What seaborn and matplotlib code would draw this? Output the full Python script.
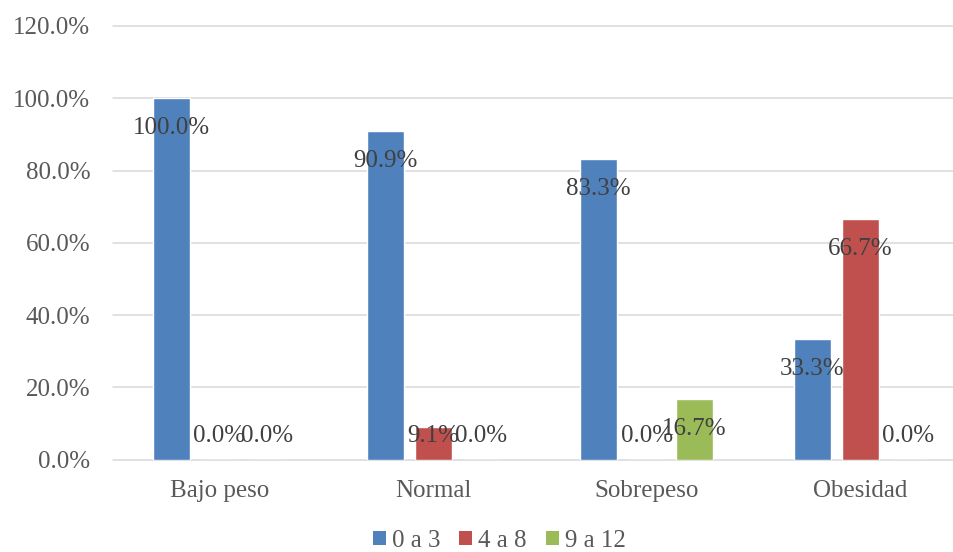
import matplotlib
matplotlib.use("Agg")
import matplotlib.pyplot as plt
from matplotlib.patches import Patch
from matplotlib.ticker import PercentFormatter
import seaborn as sns
import pandas as pd

# Proporciones por categoría de IMC y grupo
categorias = ["Bajo peso", "Normal", "Sobrepeso", "Obesidad"]
grupos = ["0 a 3", "4 a 8", "9 a 12"]
grupo_0a3 = [1.000, 0.909, 0.833, 0.333]
grupo_4a8 = [0.000, 0.091, 0.000, 0.667]
grupo_9a12 = [0.000, 0.000, 0.167, 0.000]
colores = ["#4F81BD", "#C0504D", "#9BBB59"]
yticks = [0.0, 0.2, 0.4, 0.6, 0.8, 1.0, 1.2]

df = pd.DataFrame({
    "categoria": categorias * 3,
    "grupo": [grupos[0]] * 4 + [grupos[1]] * 4 + [grupos[2]] * 4,
    "valor": grupo_0a3 + grupo_4a8 + grupo_9a12,
})

sns.set_style("white")
plt.rcParams["font.family"] = ["Liberation Serif", "DejaVu Serif"]

W, H = 954, 552
fig = plt.figure(figsize=(W / 100, H / 100), dpi=100)
left, right, top, bottom = 112.7, 967.0, 26.0, 459.5
ax = fig.add_axes([left / W, 1 - bottom / H, (right - left) / W, (bottom - top) / H])

sns.barplot(data=df, x="categoria", y="valor", hue="grupo", order=categorias,
            hue_order=grupos, palette=colores, width=0.674, gap=0.23,
            saturation=1, errorbar=None, legend=False, ax=ax)

ax.set_xlim(-0.5, 3.5)
ax.set_ylim(0, 1.2)
ax.set_yticks(yticks)
ax.yaxis.set_major_formatter(PercentFormatter(xmax=1, decimals=1))
ax.set_xlabel("")
ax.set_ylabel("")
for s in ax.spines.values():
    s.set_visible(False)
ax.set_axisbelow(True)
ax.grid(axis="y", color="#D9D9D9", linewidth=1.1)
for gl in ax.yaxis.get_gridlines():
    gl.set_clip_on(False)
ax.tick_params(axis="y", length=0, pad=16, labelsize=18, labelcolor="#595959")
ax.tick_params(axis="x", length=0, pad=15, labelsize=18, labelcolor="#595959")

# Etiquetas de datos
for cont in ax.containers:
    for bar in cont:
        v = bar.get_height()
        y = max(v - 0.083, 0.065)
        ax.text(bar.get_x() + bar.get_width() / 2, y, f"{v * 100:.1f}%",
                ha="center", va="center", fontsize=18, color="#404040")

handles = [Patch(facecolor=c, edgecolor="none") for c in colores]
fig.legend(handles, grupos, loc="center", bbox_to_anchor=(499 / W, 1 - 541 / H),
           ncol=3, frameon=False, fontsize=18, labelcolor="#595959",
           handlelength=0.52, handleheight=0.52, handletextpad=0.24,
           columnspacing=0.76, borderpad=0)

fig.savefig("out.png", dpi=100)
